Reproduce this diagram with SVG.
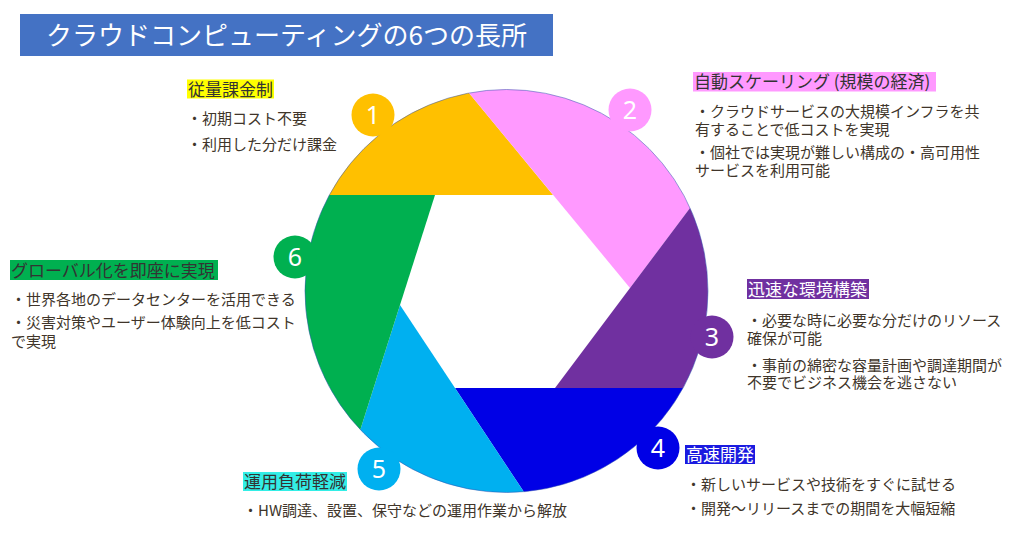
<svg xmlns="http://www.w3.org/2000/svg" width="1024" height="537" viewBox="0 0 1024 537">
<style>
.t{font-family:"Noto Sans CJK JP","Noto Sans",sans-serif;}
.b{font-size:15px;fill:#40352A;}
.h{font-size:17px;fill:#333333;}
.hw{font-size:17px;fill:#FFFFFF;}
.num{font-family:"Noto Sans","Open Sans",sans-serif;font-size:25px;fill:#FFFFFF;text-anchor:middle;}
</style>
<rect width="1024" height="537" fill="#FFFFFF"/>
<g id="title">
<rect x="20" y="14" width="533" height="42" fill="#4472C4"/>
<text class="t" x="286.5" y="45" font-size="26" fill="#FFFFFF" text-anchor="middle">クラウドコンピューティングの6つの長所</text>
</g>
<g id="aperture">
<path d="M329.3,195 L553,195 L469,93 A201.5,201.5 0 0 0 329.3,195 Z" fill="#FFC000"/>
<path d="M469,93 L630,288 L690,208 A201.5,201.5 0 0 0 469,93 Z" fill="#FF99FF"/>
<path d="M690,208 L555,388 L683,388 A201.5,201.5 0 0 0 690,208 Z" fill="#7030A0"/>
<path d="M683,388 L455,388 L523.8,491.8 A201.5,201.5 0 0 0 683,388 Z" fill="#0000E6"/>
<path d="M523.8,491.8 L400,305 L360.3,429.7 A201.5,201.5 0 0 0 523.8,491.8 Z" fill="#00B0F0"/>
<path d="M360.3,429.7 L435,195 L329.3,195 A201.5,201.5 0 0 0 360.3,429.7 Z" fill="#00B050"/>
<circle cx="506.5" cy="291" r="201.5" fill="none" stroke="#3050B0" stroke-width="1" stroke-opacity="0.5"/>
</g>
<g id="item1">
<circle cx="373" cy="115" r="21.5" fill="#FFC000"/>
<text class="num" x="373" y="124">1</text>
<rect x="187" y="79.5" width="87" height="19" fill="#FFFF00"/>
<text class="t h" x="188" y="95.5">従量課金制</text>
<text class="t b" x="187" y="124">・初期コスト不要</text>
<text class="t b" x="187" y="149.5">・利用した分だけ課金</text>
</g>
<g id="item2">
<circle cx="630" cy="110" r="21.5" fill="#FF99FF"/>
<text class="num" x="630" y="119">2</text>
<rect x="693" y="72" width="243" height="19.5" fill="#FF99FF"/>
<text class="t h" x="694" y="87.5">自動スケーリング (規模の経済)</text>
<text class="t b" x="695" y="117">・クラウドサービスの大規模インフラを共<tspan x="695" dy="17.5">有することで低コストを実現</tspan></text>
<text class="t b" x="695" y="158">・個社では実現が難しい構成の・高可用性<tspan x="695" dy="17.5">サービスを利用可能</tspan></text>
</g>
<g id="item3">
<circle cx="712" cy="337" r="21.5" fill="#7030A0"/>
<text class="num" x="712" y="346">3</text>
<rect x="747" y="279" width="122" height="20" fill="#7030A0"/>
<text class="t hw" x="748" y="295.5">迅速な環境構築</text>
<text class="t b" x="747" y="325.5">・必要な時に必要な分だけのリソース<tspan x="747" dy="18">確保が可能</tspan></text>
<text class="t b" x="747" y="370.5">・事前の綿密な容量計画や調達期間が<tspan x="747" dy="17.5">不要でビジネス機会を逃さない</tspan></text>
</g>
<g id="item4">
<circle cx="658" cy="448" r="21.5" fill="#0000E6"/>
<text class="num" x="658" y="457">4</text>
<rect x="685" y="445" width="70" height="19" fill="#1A1AE0"/>
<text class="t hw" x="686" y="460.5">高速開発</text>
<text class="t b" x="686" y="490">・新しいサービスや技術をすぐに試せる</text>
<text class="t b" x="686" y="514">・開発～リリースまでの期間を大幅短縮</text>
</g>
<g id="item5">
<circle cx="379" cy="469" r="21.5" fill="#00B0F0"/>
<text class="num" x="379" y="478">5</text>
<rect x="243" y="472" width="104" height="19" fill="#33EEE6"/>
<text class="t h" x="244" y="487.5">運用負荷軽減</text>
<text class="t b" x="243" y="516">・HW調達、設置、保守などの運用作業から解放</text>
</g>
<g id="item6">
<circle cx="295" cy="257" r="21.5" fill="#00B050"/>
<text class="num" x="295" y="266">6</text>
<rect x="10" y="260" width="208" height="20" fill="#00B050"/>
<text class="t h" x="11" y="276.5">グローバル化を即座に実現</text>
<text class="t b" x="11" y="305">・世界各地のデータセンターを活用できる</text>
<text class="t b" x="11" y="328">・災害対策やユーザー体験向上を低コスト<tspan x="11" dy="18.5">で実現</tspan></text>
</g>
</svg>
